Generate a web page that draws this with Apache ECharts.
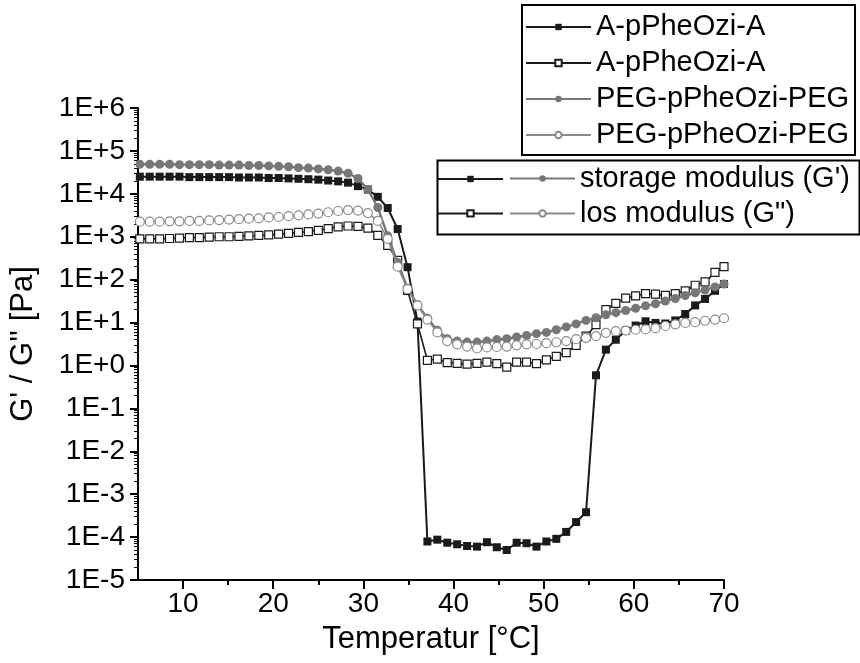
<!DOCTYPE html>
<html>
<head>
<meta charset="utf-8">
<script src="https://cdn.jsdelivr.net/npm/echarts@6/dist/echarts.min.js"></script>
<style>html,body{margin:0;padding:0;background:#fff}#c{width:860px;height:663px}</style>
</head>
<body>
<div id="c"></div>
<script>
// Temperature [°C]
const temps = [5.2, 6.3, 7.4, 8.5, 9.6, 10.7, 11.8, 12.9, 14.0, 15.1, 16.2, 17.3, 18.4, 19.5, 20.6, 21.7, 22.8, 23.9, 25.0, 26.1,
  27.2, 28.3, 29.4, 30.5, 31.6, 32.7, 33.8, 34.9, 36.0, 37.1, 38.2, 39.3, 40.4, 41.5, 42.6, 43.7, 44.8, 45.9, 47.0, 48.1,
  49.2, 50.3, 51.4, 52.5, 53.6, 54.7, 55.8, 56.9, 58.0, 59.1, 60.2, 61.3, 62.4, 63.5, 64.6, 65.7, 66.8, 67.9, 69.0, 70.0];

// A-pPheOzi-A storage modulus G' [Pa]
const aStorage = [2.51e4, 2.51e4, 2.51e4, 2.51e4, 2.51e4, 2.45e4, 2.45e4, 2.45e4, 2.45e4, 2.45e4, 2.40e4, 2.40e4, 2.40e4, 2.34e4, 2.34e4, 2.29e4, 2.24e4, 2.19e4, 2.14e4, 2.04e4,
  1.95e4, 1.82e4, 1.51e4, 1.26e4, 8.5e3, 4.68e3, 1.51e3, 195, 10.5, 7.9e-5, 8.7e-5, 7.4e-5, 6.8e-5, 6.2e-5, 6.0e-5, 7.6e-5, 5.8e-5, 5.0e-5, 7.4e-5, 7.2e-5,
  6.0e-5, 7.9e-5, 9.1e-5, 1.32e-4, 2.24e-4, 3.8e-4, 0.59, 2.34, 3.98, 6.5, 8.5, 10.7, 9.8, 9.5, 11.2, 15.8, 25.1, 35.5, 55, 79];

// A-pPheOzi-A loss modulus G'' [Pa]
const aLoss = [890, 890, 890, 910, 930, 955, 955, 980, 1000, 1000, 1020, 1050, 1070, 1100, 1150, 1200, 1260, 1320, 1410, 1550,
  1700, 1780, 1740, 1580, 1070, 630, 280, 56, 9.3, 1.32, 1.41, 1.17, 1.12, 1.07, 1.12, 1.20, 1.10, 0.91, 1.20, 1.20,
  1.10, 1.35, 1.62, 2.0, 2.95, 4.8, 8.9, 20, 28, 37, 42, 47, 46, 43, 47, 55, 74, 89, 148, 200];

// PEG-pPheOzi-PEG storage modulus G' [Pa]
const pegStorage = [4.9e4, 4.9e4, 4.9e4, 4.9e4, 4.79e4, 4.79e4, 4.79e4, 4.79e4, 4.68e4, 4.68e4, 4.68e4, 4.57e4, 4.57e4, 4.47e4, 4.37e4, 4.27e4, 4.07e4, 3.98e4, 3.80e4, 3.63e4,
  3.39e4, 3.02e4, 2.29e4, 1.26e4, 4.8e3, 1.05e3, 250, 63, 26, 12.6, 6.6, 4.2, 3.7, 3.5, 3.5, 3.7, 4.0, 4.2, 4.6, 5.0,
  5.5, 5.9, 6.8, 7.9, 9.3, 11.2, 12.9, 15.1, 17.0, 19.1, 21.4, 24.5, 27.5, 31.6, 36.3, 42.7, 49, 57.5, 67.6, 79];

// PEG-pPheOzi-PEG loss modulus G'' [Pa]
const pegLoss = [2.24e3, 2.24e3, 2.24e3, 2.29e3, 2.29e3, 2.34e3, 2.34e3, 2.40e3, 2.45e3, 2.51e3, 2.57e3, 2.63e3, 2.69e3, 2.82e3, 2.88e3, 3.02e3, 3.16e3, 3.31e3, 3.47e3, 3.72e3,
  3.98e3, 4.17e3, 4.07e3, 3.55e3, 2.34e3, 890, 200, 60, 25, 11.7, 5.9, 3.7, 3.1, 2.75, 2.5, 2.63, 2.69, 2.75, 2.95, 3.1,
  3.16, 3.3, 3.47, 3.7, 4.1, 4.4, 4.8, 5.75, 6.3, 6.5, 6.8, 6.9, 7.4, 8.3, 9.1, 9.8, 10.2, 11.0, 11.7, 12.6];

const xMajorTicks = [10, 20, 30, 40, 50, 60, 70];
const xMinorTicks = [15, 25, 35, 45, 55, 65];
const yDecadeTicks = [1e-5, 1e-4, 1e-3, 1e-2, 1e-1, 1e0, 1e1, 1e2, 1e3, 1e4, 1e5, 1e6];
const yMin = 1e-5, yMax = 1e6;

const FONT = 'Liberation Sans, Arial, sans-serif';
const BLACK = '#1a1a1a';
const GRAY = '#777777';
const LGRAY = '#8a8a8a';

const legendNames = {
  "A|G'": 'A-pPheOzi-A',
  "A|G''": 'A-pPheOzi-A',
  "PEG|G'": 'PEG-pPheOzi-PEG',
  "PEG|G''": 'PEG-pPheOzi-PEG'
};
const legend2Names = {
  "PEG|G'": "storage modulus (G')",
  "PEG|G''": 'los modulus (G")'
};

// minor log ticks expressed in log10 space (for linear helper axis)
const yMinorLog = [];
for (let n = -5; n < 6; n++) {
  for (let m = 2; m <= 9; m++) yMinorLog.push(n + Math.log10(m));
}

function pairs(vals) { return temps.map((t, i) => [t, vals[i]]); }

const chart = echarts.init(document.getElementById('c'), null, { renderer: 'canvas' });
const GRID = { left: 137, right: 136, top: 108, bottom: 83 };

const option = {
  animation: false,
  backgroundColor: '#fff',
  textStyle: { fontFamily: FONT },
  grid: Object.assign({ containLabel: false }, GRID),
  xAxis: [
    {
      type: 'value', min: 5, max: 70,
      name: 'Temperatur [°C]', nameLocation: 'middle', nameGap: 44,
      nameTextStyle: { fontSize: 31, color: '#000', fontFamily: FONT },
      axisLine: { onZero: false, lineStyle: { color: '#000', width: 2 } },
      axisTick: { customValues: xMajorTicks, length: 9, inside: false, lineStyle: { color: '#000', width: 2 } },
      axisLabel: { customValues: xMajorTicks, fontSize: 28, color: '#000', margin: 10, fontFamily: FONT },
      splitLine: { show: false }
    },
    {
      type: 'value', min: 5, max: 70, position: 'bottom',
      axisLine: { show: false, onZero: false },
      axisTick: { customValues: xMinorTicks, length: 5, lineStyle: { color: '#000', width: 2 } },
      axisLabel: { show: false },
      splitLine: { show: false }
    }
  ],
  yAxis: [
    {
      type: 'log', logBase: 10, min: yMin, max: yMax,
      name: "G' / G'' [Pa]", nameLocation: 'middle', nameGap: 99,
      nameTextStyle: { fontSize: 31, color: '#000', fontFamily: FONT },
      axisLine: { show: true, onZero: false, lineStyle: { color: '#000', width: 2 } },
      axisTick: { customValues: yDecadeTicks, length: 8, lineStyle: { color: '#000', width: 2 } },
      axisLabel: {
        customValues: yDecadeTicks,
        fontSize: 28, color: '#000', margin: 13, fontFamily: FONT,
        formatter: function (v) {
          const e = Math.round(Math.log10(v));
          return '1E' + (e >= 0 ? '+' : '-') + Math.abs(e);
        }
      },
      splitLine: { show: false }
    },
    {
      type: 'value', min: -5, max: 6, position: 'left',
      axisLine: { show: false, onZero: false },
      axisTick: { customValues: yMinorLog, length: 4, lineStyle: { color: '#000', width: 1 } },
      axisLabel: { show: false },
      splitLine: { show: false }
    }
  ],
  legend: [
    {
      orient: 'vertical', left: 522, top: 5,
      data: ["A|G'", "A|G''", "PEG|G'", "PEG|G''"],
      formatter: n => legendNames[n],
      itemWidth: 65, itemHeight: 8, itemGap: 0,
      padding: [4, 6, 2, 3],
      borderColor: '#000', borderWidth: 2,
      textStyle: { fontSize: 29, color: '#000', lineHeight: 36, fontFamily: FONT },
      selectedMode: false
    },
    {
      orient: 'vertical', left: 437, top: 175,
      data: ["A|G'", "A|G''"],
      formatter: () => '',
      itemWidth: 65, itemHeight: 8, itemGap: 27,
      padding: 0,
      textStyle: { fontSize: 29, fontFamily: FONT },
      selectedMode: false
    },
    {
      orient: 'vertical', left: 509, top: 161,
      data: ["PEG|G'", "PEG|G''"],
      formatter: n => legend2Names[n],
      itemWidth: 65, itemHeight: 8, itemGap: 0,
      padding: 0,
      textStyle: { fontSize: 29, color: '#000', lineHeight: 35, fontFamily: FONT },
      selectedMode: false
    }
  ],
  graphic: [
    { type: 'rect', left: 435, top: 158, shape: { width: 422, height: 74 }, style: { fill: 'none', stroke: '#000', lineWidth: 2 }, z: 100 }
  ],
  series: [
    {
      name: "A|G'", type: 'line', data: pairs(aStorage),
      symbol: 'rect', symbolSize: 8, showSymbol: true,
      lineStyle: { color: BLACK, width: 2 },
      itemStyle: { color: BLACK, borderColor: BLACK, borderWidth: 0 },
      z: 2
    },
    {
      name: "A|G''", type: 'line', data: pairs(aLoss),
      symbol: 'rect', symbolSize: 8, showSymbol: true,
      lineStyle: { color: BLACK, width: 1.6 },
      itemStyle: { color: '#fff', borderColor: BLACK, borderWidth: 1.2 },
      z: 3
    },
    {
      name: "PEG|G'", type: 'line', data: pairs(pegStorage),
      symbol: 'circle', symbolSize: 9, showSymbol: true,
      lineStyle: { color: GRAY, width: 2.4 },
      itemStyle: { color: GRAY, borderColor: GRAY, borderWidth: 0 },
      z: 4
    },
    {
      name: "PEG|G''", type: 'line', data: pairs(pegLoss),
      symbol: 'circle', symbolSize: 9, showSymbol: true,
      lineStyle: { color: LGRAY, width: 1.6 },
      itemStyle: { color: '#fff', borderColor: LGRAY, borderWidth: 1.2 },
      z: 5
    }
  ]
};
chart.setOption(option);
</script>
</body>
</html>
